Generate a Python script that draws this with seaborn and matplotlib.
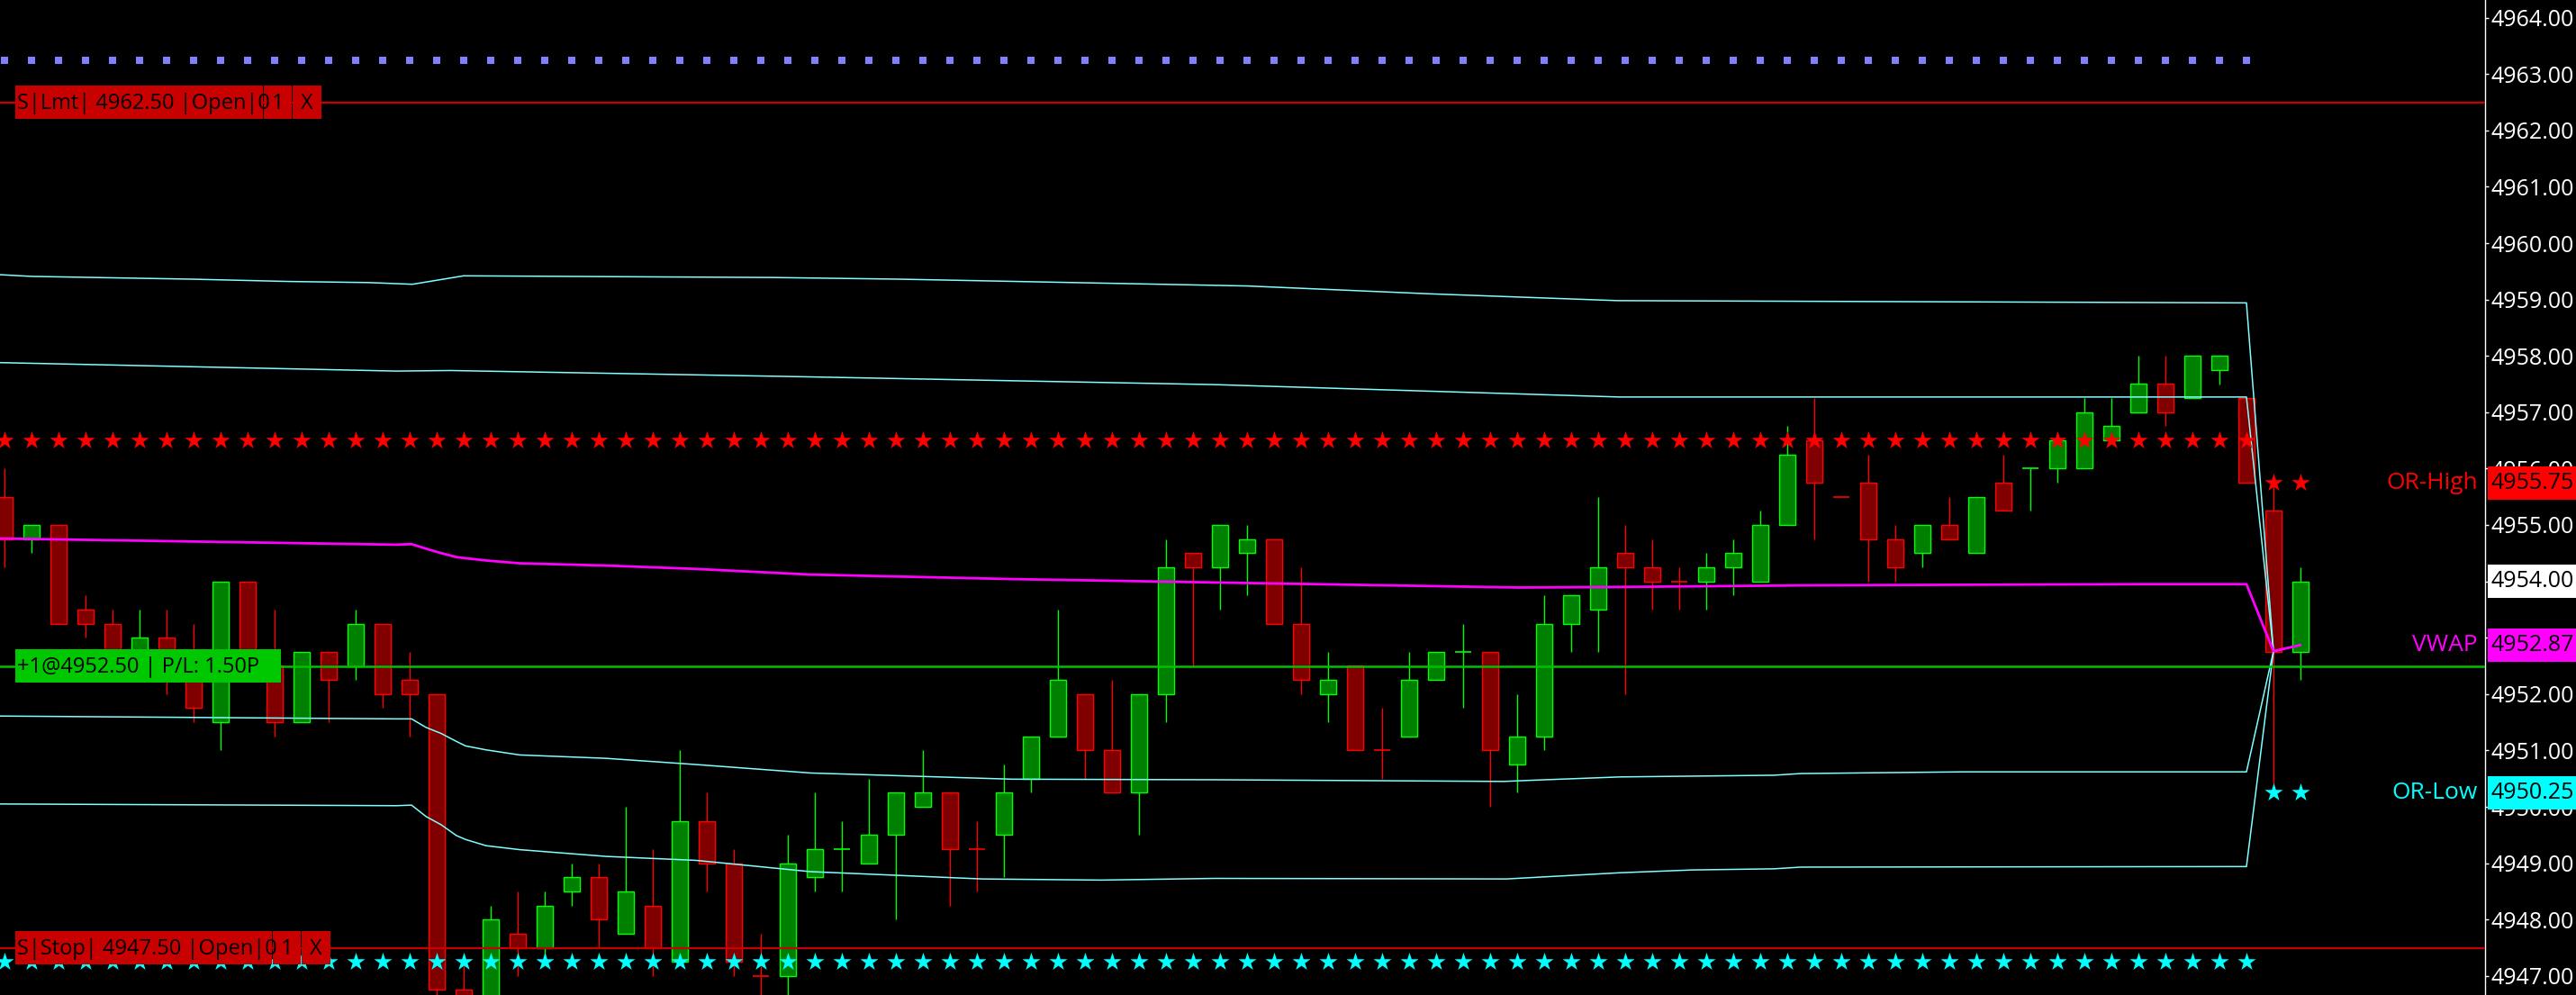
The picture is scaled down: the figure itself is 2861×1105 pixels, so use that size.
import matplotlib
matplotlib.use("Agg")
import matplotlib.pyplot as plt
import matplotlib.transforms as mtransforms
from matplotlib.patches import Rectangle
from matplotlib.ticker import FormatStrFormatter
import seaborn as sns
import numpy as np

# ---- candles (one per bar, bar index = position) ----
opens = [4955.50, 4954.75, 4955.00, 4953.50, 4953.25, 4952.50, 4953.00, 4952.50, 4951.50, 4954.00,
         4952.50, 4951.50, 4952.75, 4952.50, 4953.25, 4952.25, 4952.00, 4946.75, 4946.50, 4947.75,
         4947.50, 4948.50, 4948.75, 4947.75, 4948.25, 4947.25, 4949.75, 4949.00, 4947.00, 4947.00,
         4948.75, 4949.25, 4949.00, 4949.50, 4950.00, 4950.25, 4949.25, 4949.50, 4950.50, 4951.25,
         4952.00, 4951.00, 4950.25, 4952.00, 4954.50, 4954.25, 4954.50, 4954.75, 4953.25, 4952.00,
         4952.50, 4951.00, 4951.25, 4952.25, 4952.75, 4952.75, 4950.75, 4951.25, 4953.25, 4953.50,
         4954.50, 4954.25, 4954.00, 4954.00, 4954.25, 4954.00, 4955.00, 4956.50, 4955.50, 4955.75,
         4954.75, 4954.50, 4955.00, 4954.50, 4955.75, 4956.00, 4956.00, 4956.00, 4956.50, 4957.00,
         4957.50, 4957.25, 4957.75, 4957.25, 4955.25, 4952.75]
highs = [4956.00, 4955.00, 4955.00, 4953.75, 4953.50, 4953.50, 4953.50, 4953.25, 4954.00, 4954.00,
         4953.50, 4952.75, 4952.75, 4953.50, 4953.25, 4952.75, 4952.00, 4947.25, 4948.25, 4948.50,
         4948.50, 4949.00, 4949.00, 4950.00, 4949.25, 4951.00, 4950.25, 4949.25, 4947.75, 4949.50,
         4950.25, 4949.75, 4950.50, 4950.25, 4951.00, 4950.25, 4949.75, 4950.75, 4951.25, 4953.50,
         4952.00, 4952.25, 4952.00, 4954.75, 4954.50, 4955.00, 4955.00, 4954.75, 4954.25, 4952.75,
         4952.50, 4951.75, 4952.75, 4952.75, 4953.25, 4952.75, 4952.00, 4953.75, 4953.75, 4955.50,
         4955.00, 4954.75, 4954.25, 4954.50, 4954.75, 4955.25, 4956.75, 4957.25, 4955.50, 4956.25,
         4955.00, 4955.00, 4955.50, 4955.50, 4956.25, 4956.00, 4956.50, 4957.25, 4957.25, 4958.00,
         4958.00, 4958.00, 4958.00, 4957.25, 4955.75, 4954.25]
lows = [4954.25, 4954.50, 4953.25, 4953.00, 4952.25, 4952.25, 4952.00, 4951.50, 4951.00, 4952.25,
        4951.25, 4951.50, 4951.50, 4952.25, 4951.75, 4951.25, 4946.50, 4946.25, 4946.25, 4947.00,
        4947.25, 4948.25, 4947.50, 4947.75, 4947.00, 4947.25, 4948.50, 4947.00, 4946.50, 4946.50,
        4948.50, 4948.50, 4949.00, 4948.00, 4950.00, 4948.25, 4948.50, 4948.75, 4950.25, 4951.25,
        4950.50, 4950.25, 4949.50, 4951.50, 4952.50, 4953.50, 4953.75, 4953.25, 4952.00, 4951.50,
        4951.00, 4950.50, 4951.25, 4952.25, 4951.75, 4950.00, 4950.25, 4951.00, 4952.75, 4952.75,
        4952.00, 4953.50, 4953.50, 4953.50, 4953.75, 4954.00, 4955.00, 4954.75, 4955.50, 4954.00,
        4954.00, 4954.25, 4954.75, 4954.50, 4955.25, 4955.25, 4955.75, 4956.00, 4956.50, 4957.00,
        4956.75, 4957.25, 4957.50, 4955.75, 4950.25, 4952.25]
closes = [4954.75, 4955.00, 4953.25, 4953.25, 4952.50, 4953.00, 4952.50, 4951.75, 4954.00, 4952.50,
          4951.50, 4952.75, 4952.25, 4953.25, 4952.00, 4952.00, 4946.75, 4946.50, 4948.00, 4947.50,
          4948.25, 4948.75, 4948.00, 4948.50, 4947.50, 4949.75, 4949.00, 4947.25, 4947.00, 4949.00,
          4949.25, 4949.25, 4949.50, 4950.25, 4950.25, 4949.25, 4949.25, 4950.25, 4951.25, 4952.25,
          4951.00, 4950.25, 4952.00, 4954.25, 4954.25, 4955.00, 4954.75, 4953.25, 4952.25, 4952.25,
          4951.00, 4951.00, 4952.25, 4952.75, 4952.75, 4951.00, 4951.25, 4953.25, 4953.75, 4954.25,
          4954.25, 4954.00, 4954.00, 4954.25, 4954.50, 4955.00, 4956.25, 4955.75, 4955.50, 4954.75,
          4954.25, 4955.00, 4954.75, 4955.50, 4955.25, 4956.00, 4956.50, 4957.00, 4956.75, 4957.50,
          4957.00, 4958.00, 4958.00, 4955.75, 4952.75, 4954.00]
doji_up = [31, 54, 75]   # flat bars drawn in the up colour

# ---- VWAP and deviation bands, read at bar positions ----
up2_x = [-0.17, 1, 7, 10.5, 13.5, 15.1, 17, 24.5, 28.5, 33.2, 46, 52.8, 59.7, 83, 84, 85]
up2_y = [4959.44, 4959.41, 4959.36, 4959.32, 4959.30, 4959.27, 4959.42, 4959.40, 4959.39,
         4959.36, 4959.24, 4959.10, 4958.98, 4958.94, 4952.76, 4952.87]
up1_x = [-0.17, 14.5, 16.5, 29.5, 44.8, 59.8, 83, 84, 85]
up1_y = [4957.88, 4957.73, 4957.74, 4957.63, 4957.49, 4957.27, 4957.27, 4952.76, 4952.87]
vwap_x = [-0.17, 14.5, 15.07, 15.6, 16.17, 16.73, 17.07, 17.83, 19.07, 22.27, 25.6, 29.83,
          37.3, 44.8, 56.07, 59.8, 67.07, 79.07, 83, 84, 85]
vwap_y = [4954.76, 4954.65, 4954.66, 4954.58, 4954.50, 4954.43, 4954.41, 4954.37, 4954.32,
          4954.28, 4954.22, 4954.12, 4954.04, 4953.98, 4953.89, 4953.90, 4953.93, 4953.95,
          4953.95, 4952.76, 4952.87]
lo1_x = [-0.17, 14.5, 15.07, 15.6, 16.17, 16.73, 17.07, 17.83, 19.07, 22.27, 25.6, 29.83,
         37.3, 44.8, 55.5, 56.5, 59.8, 65.5, 66.5, 72.5, 83, 84, 85]
lo1_y = [4951.61, 4951.56, 4951.56, 4951.41, 4951.30, 4951.16, 4951.08, 4951.01, 4950.92,
         4950.86, 4950.75, 4950.60, 4950.49, 4950.48, 4950.45, 4950.47, 4950.53, 4950.56,
         4950.59, 4950.62, 4950.62, 4952.76, 4952.87]
lo2_x = [-0.17, 14.5, 15.07, 15.6, 16.17, 16.73, 17.07, 17.83, 19.07, 22.27, 25.6, 29.83,
         36.2, 40.6, 44.8, 55.6, 59.8, 62.5, 65.5, 66.5, 83, 84, 85]
lo2_y = [4950.05, 4950.02, 4950.03, 4949.83, 4949.68, 4949.49, 4949.42, 4949.31, 4949.24,
         4949.12, 4949.05, 4948.85, 4948.72, 4948.70, 4948.73, 4948.72, 4948.83, 4948.88,
         4948.90, 4948.93, 4948.94, 4952.76, 4952.87]

# ---- levels ----
pivot_top = 4963.25
limit_price = 4962.50
star_high = 4956.50
star_low = 4947.25
entry_price = 4952.50
stop_price = 4947.50
or_high = 4955.75
or_low = 4950.25
vwap_last = 4952.87
last_price = closes[-1]
pl_points = 1.50
n_marked = 84            # bars carrying the prior-session markers
or_bars = [84, 85]       # bars carrying the opening-range markers
y_ticks = list(range(4947, 4965))

UP_EDGE, UP_FILL = "#00ff00", "#008000"
DN_EDGE, DN_FILL = "#ff0000", "#800000"
BAND = "#80ffff"

sns.set_theme(style="dark", rc={"axes.facecolor": "black", "figure.facecolor": "black",
                                "axes.edgecolor": "white", "grid.color": "black"})
plt.rcParams["font.family"] = ["Open Sans", "DejaVu Sans"]

W, H, DPI = 2861, 1105, 100
PLOT_W = 2760
PX = 62.6                      # pixels per 1.00 point
fig = plt.figure(figsize=(W / DPI, H / DPI), dpi=DPI)
ax = fig.add_axes([0, 0, PLOT_W / W, 1])
ax.set_xlim(-5 / 30, (PLOT_W - 5) / 30)
ax.set_ylim(4964 - (H - 19.6) / PX, 4964 + 19.6 / PX)
trans = mtransforms.blended_transform_factory(ax.transAxes, ax.transData)

# candles
idx = np.arange(len(opens))
o = np.array(opens); c = np.array(closes)
up = (c > o) | np.isin(idx, doji_up)
edges = np.where(up, UP_EDGE, DN_EDGE)
fills = np.where(up, UP_FILL, DN_FILL)
ax.vlines(idx, lows, highs, colors=edges, lw=1.0, zorder=2)
body = c != o
ax.bar(idx[body], np.abs(c - o)[body], bottom=np.minimum(o, c)[body], width=0.63,
       color=fills[body], edgecolor=edges[body], linewidth=1.0, zorder=3)
ax.hlines(o[~body], idx[~body] - 0.315, idx[~body] + 0.315, colors=edges[~body], lw=1.2, zorder=3)

# bands and vwap
for xs, ys in [(up2_x, up2_y), (up1_x, up1_y), (lo1_x, lo1_y), (lo2_x, lo2_y)]:
    sns.lineplot(x=xs, y=ys, ax=ax, color=BAND, lw=1.1, sort=False, estimator=None, zorder=4)
sns.lineplot(x=vwap_x, y=vwap_y, ax=ax, color="#ff00ff", lw=2.0, sort=False, estimator=None, zorder=4)

# order / position lines
ax.axhline(limit_price, color="#c80000", lw=1.6, zorder=5)
ax.axhline(stop_price, color="#c80000", lw=1.6, zorder=5)
ax.axhline(entry_price, color="#00c000", lw=1.8, zorder=5)

# markers
marked = np.arange(n_marked)
sns.scatterplot(x=marked, y=np.full(n_marked, pivot_top), marker="s", s=34, color="#8080ff",
                linewidth=0, ax=ax, zorder=6)
sns.scatterplot(x=marked, y=np.full(n_marked, star_high), marker="*", s=230, color="#ff0000",
                linewidth=0, ax=ax, zorder=6)
sns.scatterplot(x=marked, y=np.full(n_marked, star_low), marker="*", s=230, color="#00ffff",
                linewidth=0, ax=ax, zorder=6)
sns.scatterplot(x=or_bars, y=[or_high] * 2, marker="*", s=230, color="#ff0000", linewidth=0, ax=ax, zorder=6)
sns.scatterplot(x=or_bars, y=[or_low] * 2, marker="*", s=230, color="#00ffff", linewidth=0, ax=ax, zorder=6)

# y axis on the right
ax.yaxis.tick_right()
ax.set_yticks(y_ticks)
ax.yaxis.set_major_formatter(FormatStrFormatter("%.2f"))
ax.tick_params(axis="y", colors="white", labelcolor="white", labelsize=18, length=3, width=1, pad=2)
ax.set_xticks([])
for s in ["left", "top", "bottom"]:
    ax.spines[s].set_visible(False)
ax.spines["right"].set_color("white")
ax.spines["right"].set_linewidth(1.0)
ax.set_xlabel(""); ax.set_ylabel("")
ax.grid(False)

BOX_H = 37 / PX
NUDGE = 1.5 / PX               # text sits a touch low in the tags


def tag(price, segments, texts, face, fs):
    for k, ((x0, x1), t) in enumerate(zip(segments, texts)):
        ax.add_patch(Rectangle((x0 / PLOT_W, price - BOX_H / 2), (x1 - x0) / PLOT_W, BOX_H,
                               transform=trans, facecolor=face, edgecolor="none", zorder=8))
        if k == 0:
            ax.text((x0 + 2) / PLOT_W, price - NUDGE, t, transform=trans, color="black",
                    fontsize=fs, ha="left", va="center", zorder=9)
        else:
            ax.text((x0 + x1) / 2 / PLOT_W, price - NUDGE, t, transform=trans, color="black",
                    fontsize=fs, ha="center", va="center", zorder=9)


tag(limit_price, [(17, 292), (293, 324), (325, 357)],
    [f"S|Lmt| {limit_price:.2f} |Open|0", "1", "X"], "#c80000", 17)
tag(stop_price, [(17, 302), (303, 334), (335, 367)],
    [f"S|Stop| {stop_price:.2f} |Open|0", "1", "X"], "#c80000", 17)
tag(entry_price, [(17, 312)], [f"+1@{entry_price:.2f} | P/L: {pl_points:.2f}P"], "#00c800", 17)

# price tags on the axis
for price, face in [(or_high, "#ff0000"), (last_price, "#ffffff"), (vwap_last, "#ff00ff"),
                    (or_low, "#00ffff")]:
    ax.add_patch(Rectangle((1 + 3 / PLOT_W, price - BOX_H / 2), (W - PLOT_W) / PLOT_W, BOX_H,
                           transform=trans, facecolor=face, edgecolor="none", clip_on=False, zorder=10))
    ax.text(1 + 6 / PLOT_W, price, f"{price:.2f}", transform=trans, color="black", fontsize=18,
            ha="left", va="center", clip_on=False, zorder=11)

for price, name, col in [(or_high, "OR-High", "#ff0000"), (vwap_last, "VWAP", "#ff00ff"),
                         (or_low, "OR-Low", "#00ffff")]:
    ax.text(2752 / PLOT_W, price, name, transform=trans, color=col, fontsize=19,
            ha="right", va="center", zorder=9)

fig.savefig("out.png", dpi=DPI, facecolor="black")
